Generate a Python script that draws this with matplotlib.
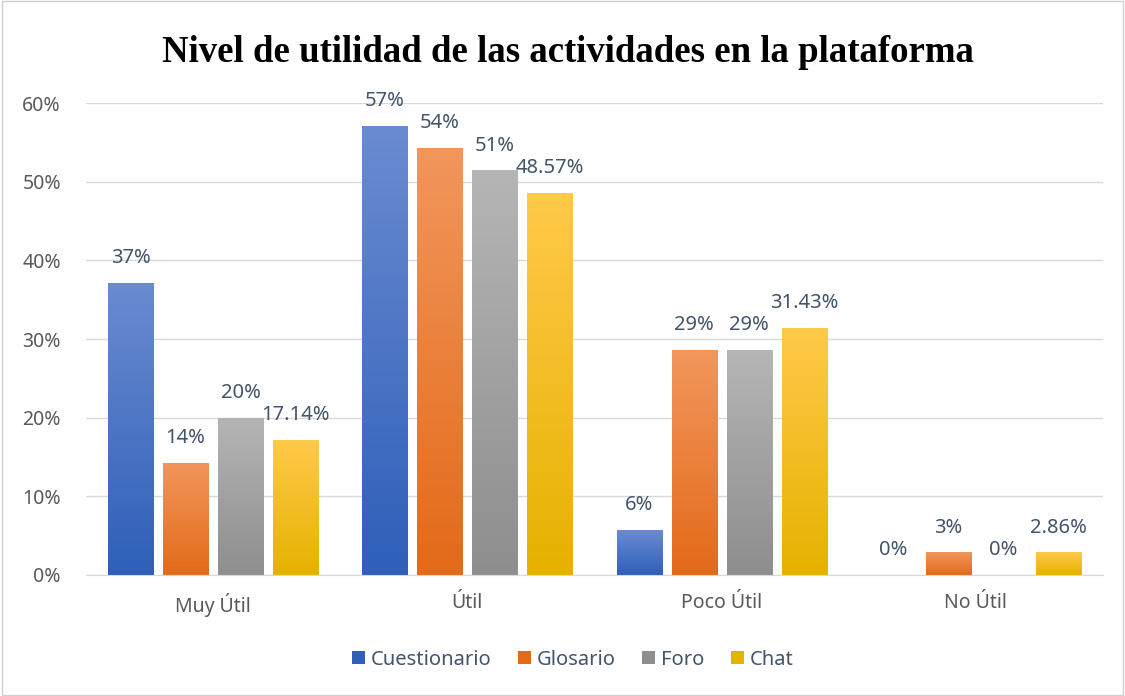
import numpy as np
import matplotlib.pyplot as plt
from matplotlib.colors import LinearSegmentedColormap
from matplotlib.patches import Rectangle

categories = ['Muy Útil', 'Útil', 'Poco Útil', 'No Útil']
series = ['Cuestionario', 'Glosario', 'Foro', 'Chat']
cuestionario = [37.14, 57.14, 5.71, 0.0]
glosario = [14.29, 54.29, 28.57, 2.86]
foro = [20.0, 51.43, 28.57, 0.0]
chat = [17.14, 48.57, 31.43, 2.86]
labels = [
    ['37%', '57%', '6%', '0%'],
    ['14%', '54%', '29%', '3%'],
    ['20%', '51%', '29%', '0%'],
    ['17.14%', '48.57%', '31.43%', '2.86%'],
]
# gradient top -> bottom for each series
grad = [('#6a8bd1', '#2f5fb9'), ('#f2965c', '#e36a19'),
        ('#b5b5b5', '#8e8e8e'), ('#ffc94a', '#e5b200')]

fig = plt.figure(figsize=(11.25, 6.96), dpi=100)
ax = fig.add_axes([0.0764, 0.1739, 0.904, 0.678])
fig.patches.append(Rectangle((0.002, 0.002), 0.996, 0.996, transform=fig.transFigure,
                             fill=False, edgecolor='#d0d0d0', linewidth=1))

values = [cuestionario, glosario, foro, chat]
x = np.arange(len(categories))
w = 0.177
step = 0.2165
for i, (vals, name) in enumerate(zip(values, series)):
    pos = x + (i - 1.5) * step
    cmap = LinearSegmentedColormap.from_list(name, [grad[i][1], grad[i][0]])
    bars = ax.bar(pos, vals, w, color=grad[i][0], label=name, zorder=2)
    for b in bars:
        b.set_facecolor('none')
        b.set_edgecolor('none')
        h = b.get_height()
        if h <= 0:
            continue
        img = ax.imshow(np.linspace(0, 1, 100).reshape(-1, 1), cmap=cmap, origin='lower',
                        extent=[b.get_x(), b.get_x() + b.get_width(), 0, h],
                        aspect='auto', zorder=2)
        img.set_clip_path(b)
    for p, v, t in zip(pos, vals, labels[i]):
        ax.text(p, v + 1.9, t, ha='center', va='bottom', fontsize=14.5,
                color='#44546a', family='Noto Sans', zorder=3)

ax.set_xlim(-0.5, 3.5)
ax.set_ylim(0, 60)
ax.set_yticks(range(0, 61, 10))
ax.set_yticklabels([f'{v}%' for v in range(0, 61, 10)])
ax.set_xticks(x)
ax.set_xticklabels(categories)
ax.yaxis.grid(True, color='#d9d9d9', linewidth=1, zorder=0)
ax.set_axisbelow(True)
for s in ['top', 'right', 'left']:
    ax.spines[s].set_visible(False)
ax.spines['bottom'].set_color('#d9d9d9')
ax.tick_params(axis='both', length=0, labelsize=14, labelcolor='#595959')
ax.tick_params(axis='x', pad=13)
ax.tick_params(axis='y', pad=18)
for t in ax.get_xticklabels() + ax.get_yticklabels():
    t.set_family('Noto Sans')

handles = [Rectangle((0, 0), 1, 1, facecolor=g[1]) for g in grad]
fig.legend(handles, series, loc='center', bbox_to_anchor=(0.509, 0.052), ncol=4,
           frameon=False, handlelength=0.65, handleheight=0.65, handletextpad=0.3,
           columnspacing=1.3, prop={'family': 'Noto Sans', 'size': 14.5},
           labelcolor='#44546a')

fig.text(0.505, 0.925, 'Nivel de utilidad de las actividades en la plataforma',
         ha='center', va='center', fontsize=26.5, fontweight='bold',
         family='Liberation Serif')

fig.savefig('out.png', dpi=100)
